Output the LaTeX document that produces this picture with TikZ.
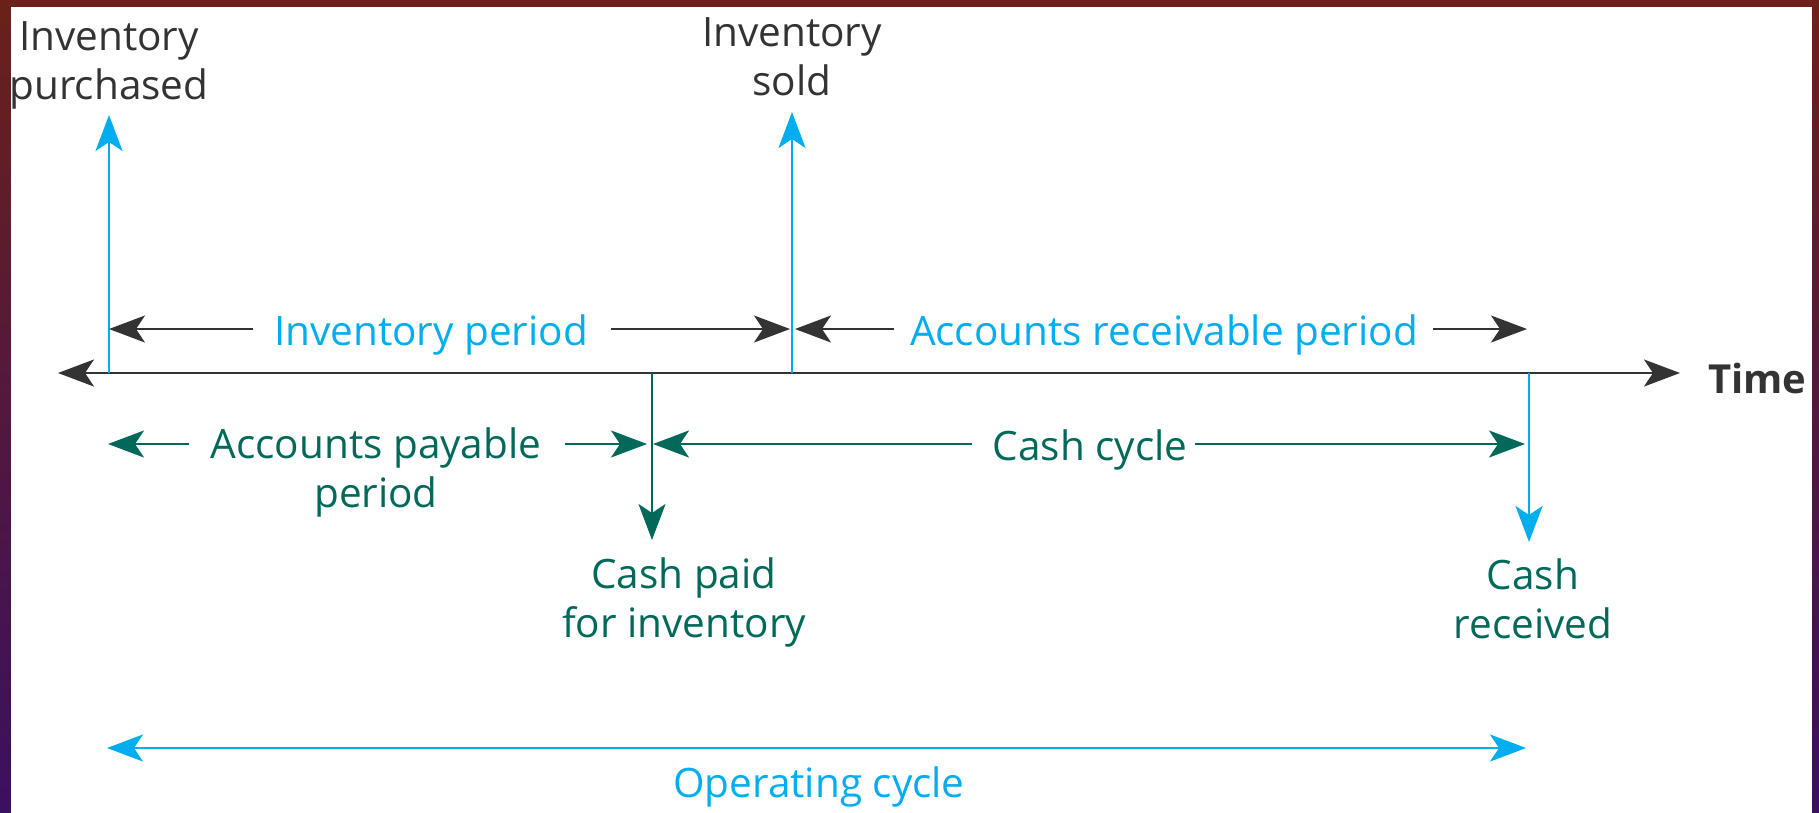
\documentclass[tikz,border=0pt]{standalone}
\usepackage{fontspec}
\setmainfont{Open Sans}
\usetikzlibrary{arrows.meta}
\definecolor{cblue}{HTML}{00AEEF}
\definecolor{cgreen}{HTML}{00695A}
\definecolor{cgray}{HTML}{333333}
\definecolor{frametop}{HTML}{6B2119}
\definecolor{framebot}{HTML}{3A1060}
\tikzset{
  tip/.tip={Stealth[length=36pt,width=27pt,inset=9pt]},
  lbl/.style={inner sep=0pt,font=\fontsize{40.5}{48.5}\selectfont,align=center,anchor=base},
  grayline/.style={draw=cgray,line width=2.2pt,-tip,fill=cgray},
  greenline/.style={draw=cgreen,line width=2.2pt,-tip,fill=cgreen},
  blueline/.style={draw=cblue,line width=2.4pt,-tip,fill=cblue},
}
\begin{document}
\begin{tikzpicture}[x=1pt,y=-1pt]
\useasboundingbox (0,0) rectangle (1819,812);
\shade[top color=frametop,bottom color=framebot] (0,0) rectangle (1819,812);
\fill[white] (11,7) rectangle (1812,815);

% coordinates on the time axis
\coordinate (axL) at (58,373);
\coordinate (axR) at (1680,373);
\coordinate (pP) at (109,373);
\coordinate (pS) at (792,373);
\coordinate (pC) at (652,373);
\coordinate (pR) at (1529,373);
\coordinate (pPtip) at (109,115);
\coordinate (pStip) at (792,112);
\coordinate (pCtip) at (652,540);
\coordinate (pRtip) at (1529,542);

% labels (base = baseline of the last line)
\node[lbl,text=cgray] (tpur) at (109,99) {Inventory\\purchased};
\node[lbl,text=cgray] (tsold) at (792,95) {Inventory\\sold};
\node[lbl,text=cgray,anchor=base west,font=\fontsize{40}{47}\selectfont\bfseries] (time) at (1708,393) {Time};
\node[lbl,text=cblue] (invper) at (431,345) {Inventory period};
\node[lbl,text=cblue] (arper) at (1164,345) {Accounts receivable period};
\node[lbl,text=cgreen] (apper) at (376,507) {Accounts payable\\period};
\node[lbl,text=cgreen] (cashcyc) at (1090,460) {Cash cycle};
\node[lbl,text=cgreen] (cpaid) at (684,637) {Cash paid\\for inventory};
\node[lbl,text=cgreen] (crec) at (1533,638) {Cash\\received};
\node[lbl,text=cblue] (opcyc) at (819,797) {Operating cycle};

% time axis
\draw[cgray,line width=2.4pt,tip-tip,fill=cgray] (axL) -- (axR);

% event lines
\draw[blueline] (pP) -- (pPtip);
\draw[blueline] (pS) -- (pStip);
\draw[greenline] (pC) -- (pCtip);
\draw[blueline] (pR) -- (pRtip);

% period arrows
\coordinate (ipA) at (253,329); \coordinate (ipB) at (611,329);
\coordinate (ipL) at (109,329); \coordinate (ipR) at (790,329);
\draw[grayline] (ipA) -- (ipL);
\draw[grayline] (ipB) -- (ipR);
\coordinate (arA) at (894,329); \coordinate (arB) at (1433,329);
\coordinate (arL) at (795,329); \coordinate (arR) at (1527,329);
\draw[grayline] (arA) -- (arL);
\draw[grayline] (arB) -- (arR);
\coordinate (apA) at (189,444); \coordinate (apB) at (565,444);
\coordinate (apL) at (108,444); \coordinate (apR) at (647,444);
\draw[greenline] (apA) -- (apL);
\draw[greenline] (apB) -- (apR);
\coordinate (ccA) at (972,444); \coordinate (ccB) at (1195,444);
\coordinate (ccL) at (653,444); \coordinate (ccR) at (1525,444);
\draw[greenline] (ccA) -- (ccL);
\draw[greenline] (ccB) -- (ccR);
\coordinate (ocL) at (107,748); \coordinate (ocR) at (1526,748);
\draw[cblue,line width=2.4pt,tip-tip,fill=cblue] (ocL) -- (ocR);
\end{tikzpicture}
\end{document}
